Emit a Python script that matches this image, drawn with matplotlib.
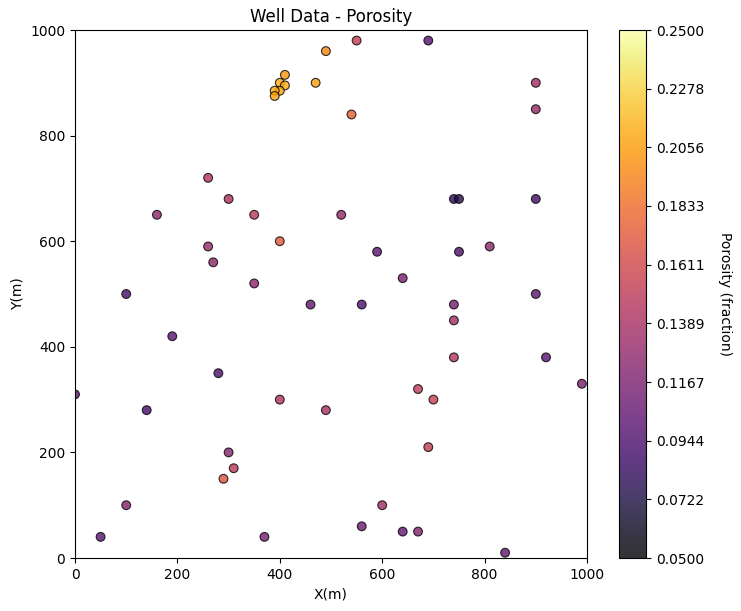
import numpy as np
import matplotlib
matplotlib.use('Agg')
import matplotlib.pyplot as plt

# Координаты скважин и пористость (оценка по картинке)
x_m = [490, 550, 690, 410, 400, 470, 410, 400, 390, 390, 540, 900, 900, 260, 300,
       740, 750, 900, 160, 350, 520, 400, 260, 270, 590, 750, 810, 640, 350, 100,
       900, 460, 560, 740, 740, 190, 740, 920, 280, 990, 670, 700, 400, 0, 140,
       490, 690, 300, 310, 290, 100, 600, 50, 370, 560, 640, 670, 840]
y_m = [960, 980, 980, 915, 900, 900, 895, 885, 885, 875, 840, 900, 850, 720, 680,
       680, 680, 680, 650, 650, 650, 600, 590, 560, 580, 580, 590, 530, 520, 500,
       500, 480, 480, 480, 450, 420, 380, 380, 350, 330, 320, 300, 300, 310, 280,
       280, 210, 200, 170, 150, 100, 100, 40, 40, 60, 50, 50, 10]
porosity = [0.196, 0.152, 0.098, 0.204, 0.212, 0.207, 0.213, 0.210, 0.212, 0.208, 0.176,
            0.136, 0.130, 0.146, 0.140, 0.080, 0.076, 0.090, 0.126, 0.150, 0.130, 0.172,
            0.132, 0.126, 0.100, 0.094, 0.126, 0.116, 0.126, 0.092, 0.100, 0.106, 0.096,
            0.114, 0.136, 0.100, 0.144, 0.100, 0.094, 0.116, 0.152, 0.156, 0.146, 0.100,
            0.090, 0.140, 0.152, 0.122, 0.150, 0.170, 0.122, 0.136, 0.100, 0.114, 0.110,
            0.104, 0.120, 0.106]

cbar_ticks = np.linspace(0.05, 0.25, 10)

fig = plt.figure(figsize=(7.41, 6.11), dpi=100)
ax = fig.add_axes([75 / 741, 1 - 558 / 611, 512 / 741, 528 / 611])

sc = ax.scatter(x_m, y_m, c=porosity, cmap='inferno', vmin=0.05, vmax=0.25,
                alpha=0.8, edgecolors='black', linewidths=0.8, s=40)
ax.set_xlim(0, 1000)
ax.set_ylim(0, 1000)
ax.set_title('Well Data - Porosity')
ax.set_xlabel('X(m)')
ax.set_ylabel('Y(m)')

cax = fig.add_axes([619 / 741, 1 - 558 / 611, 27 / 741, 528 / 611])
cbar = fig.colorbar(sc, cax=cax, ticks=cbar_ticks)
cbar.ax.set_yticklabels(['%.4f' % t for t in cbar_ticks])
cbar.set_label('Porosity (fraction)', rotation=270, labelpad=20)

fig.savefig('out.png', dpi=100)
